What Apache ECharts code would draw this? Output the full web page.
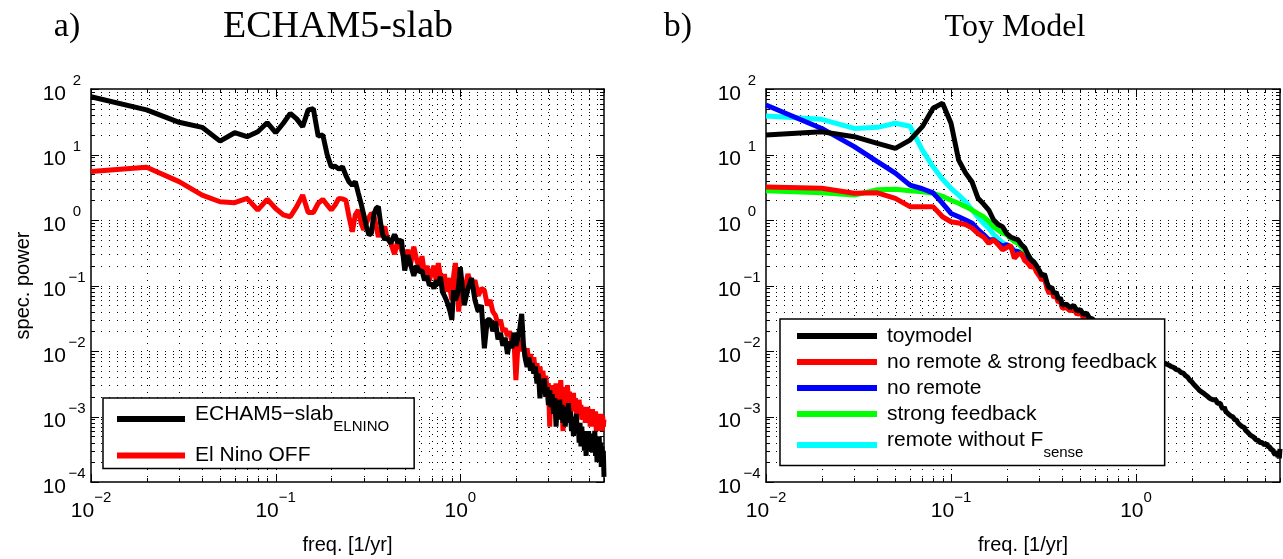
<!DOCTYPE html>
<html><head><meta charset="utf-8">
<script src="https://cdn.jsdelivr.net/npm/echarts@6/dist/echarts.min.js"></script>
<style>html,body{margin:0;padding:0;background:#fff}#c{width:1283px;height:559px}</style>
</head><body><div id="c"></div>
<script>
// ---------------- data ----------------
const freqLow = [0.01,0.02,0.03,0.04,0.05,0.06,0.07,0.08,0.09,0.10,0.11,0.12,0.13,0.14,0.15,0.16,0.17,0.18,0.19,0.20,
  0.21,0.22,0.23,0.24,0.25,0.26,0.27,0.28,0.29,0.30,0.31,0.32,0.33,0.34,0.35,0.36,0.37,0.38,0.39,0.40];
const freqMid = [0.42,0.44,0.46,0.48,0.50,0.52,0.54,0.56,0.58,0.60,0.62,0.64,0.66,0.68,0.70,0.72,0.74,0.76,0.78,0.80,
  0.82,0.84,0.86,0.88,0.90,0.92,0.94,0.96,0.98,1.00];
const freqHigh = [1.05,1.10,1.15,1.20,1.25,1.30,1.35,1.40,1.45,1.50,1.55,1.60,1.65,1.70,1.75,1.80,1.85,1.90,1.95,2.00,
  2.05,2.10,2.15,2.20,2.25,2.30,2.35,2.40,2.45,2.50,2.55,2.60,2.65,2.70,2.75,2.80,2.85,2.90,2.95,3.00,
  3.05,3.10,3.15,3.20,3.25,3.30,3.35,3.40,3.45,3.50,3.55,3.60,3.65,3.70,3.75,3.80,3.85,3.90,3.95,4.00,
  4.05,4.10,4.15,4.20,4.25,4.30,4.35,4.40,4.45,4.50,4.55,4.60,4.65,4.70,4.75,4.80,4.85,4.90,4.95,5.00,
  5.05,5.10,5.15,5.20,5.25,5.30,5.35,5.40,5.45,5.50,5.55,5.60,5.65,5.70,5.75,5.80,5.85,5.90,5.95,6.00];

// panel a) ECHAM5-slab
const echamElnino = [
  76,48,31,26,16,21.5,18.7,22.3,30.6,21.5, 30,42.5,35,26.6,48,50,19,20,10,6.5,
  6.6,6.0,6.5,4.8,3.8,3.4,3.85,2.6,1.8,1.2, 0.8,0.59,0.63,1.2,1.5,1.6,0.9,0.6,0.5,0.55,
  0.44,0.6,0.45,0.5,0.17,0.29,0.2,0.14,0.2,0.16, 0.17,0.12,0.14,0.1,0.108,0.09,0.12,0.1,0.136,0.08,
  0.07,0.06,0.05,0.04,0.03,0.085,0.06,0.07,0.1,0.19,
  0.05,0.09,0.13,0.06,0.04,0.05,0.011,0.03,0.03,0.02, 0.028,0.015,0.019,0.012,0.016,0.009,0.014,0.011,0.019,0.012,
  0.016,0.022,0.037,0.012,0.0075,0.0057,0.008,0.005,0.0065,0.0045, 0.0058,0.0032,0.0045,0.0019,0.0035,0.0024,0.0038,0.002,0.0028,0.0015,
  0.0025,0.0014,0.0022,0.0011,0.0019,0.0007,0.0016,0.0009,0.0018,0.001, 0.0015,0.0008,0.0014,0.0007,0.0012,0.0009,0.0016,0.0008,0.0012,0.0006,
  0.001,0.0005,0.0009,0.0006,0.0011,0.00055,0.0008,0.0004,0.0008,0.00035, 0.0007,0.0004,0.0006,0.0003,0.0005,0.00025,0.0005,0.0003,0.0006,0.00035,
  0.00055,0.0003,0.0005,0.00028,0.00045,0.0004,0.0006,0.00025,0.00045,0.0002, 0.0004,0.00022,0.0005,0.00025,0.0004,0.00017,0.00035,0.0002,0.0003,0.00012];
const elNinoOff = [
  5.5,6.4,3.85,2.4,1.9,1.84,2.14,1.42,2.07,1.5, 1.2,1.12,1.6,2.4,1.3,1.3,1.8,2.07,1.7,1.42,
  1.7,2.14,2.1,2.0,1.1,0.66,1.2,1.42,0.9,0.71, 0.9,1.1,1.26,1.2,0.8,0.55,0.7,0.65,0.8,0.55,
  0.45,0.3,0.5,0.35,0.25,0.35,0.22,0.39,0.25,0.18, 0.28,0.15,0.2,0.12,0.16,0.2,0.12,0.22,0.14,0.1,
  0.15,0.08,0.13,0.09,0.06,0.14,0.22,0.12,0.04,0.09,
  0.08,0.15,0.1,0.12,0.07,0.09,0.085,0.05,0.06,0.04, 0.035,0.025,0.03,0.02,0.022,0.017,0.02,0.014,0.016,0.0036,
  0.012,0.015,0.01,0.012,0.008,0.011,0.007,0.009,0.006,0.008, 0.005,0.0065,0.0045,0.0058,0.0035,0.005,0.003,0.0042,0.0028,0.0032,
  0.0007,0.0028,0.002,0.003,0.0022,0.0032,0.0018,0.0028,0.002,0.0036, 0.0015,0.0006,0.0022,0.0028,0.0016,0.003,0.0018,0.0024,0.0014,0.002,
  0.0012,0.0023,0.0013,0.0019,0.0011,0.0016,0.001,0.0018,0.0011,0.0015, 0.0009,0.0014,0.0009,0.0013,0.0008,0.0012,0.0009,0.0014,0.0008,0.0011,
  0.0007,0.0012,0.0008,0.0013,0.0007,0.0011,0.0008,0.0012,0.0006,0.001, 0.0007,0.0011,0.0006,0.0009,0.0007,0.0011,0.0006,0.001,0.0007,0.0009];

// panel b) Toy Model
const toymodel = [
  19.9,22.3,18.7,14.8,12.4,16.6,26.6,50.7,60.5,30, 8.2,5.2,3.8,2.14,1.75,1.42,1.0,0.85,0.79,0.62,
  0.55,0.52,0.5,0.42,0.38,0.3,0.25,0.23,0.2,0.17, 0.14,0.15,0.11,0.09,0.095,0.075,0.08,0.062,0.065,0.05,
  0.052,0.046,0.05,0.041,0.043,0.036,0.038,0.032,0.031,0.028, 0.027,0.025,0.024,0.022,0.021,0.019,0.0185,0.017,0.0165,0.0155,
  0.0148,0.014,0.0135,0.0128,0.0122,0.0118,0.0112,0.0108,0.0104,0.01,
  0.0093,0.0089,0.0085,0.0081,0.0078,0.0074,0.007,0.0066,0.0064,0.0061, 0.0058,0.0056,0.0052,0.0051,0.0047,0.0046,0.0042,0.004,0.0036,0.0034,
  0.0031,0.0029,0.0027,0.0025,0.0024,0.0023,0.0022,0.0021,0.0022,0.0019, 0.002,0.0018,0.0017,0.0018,0.0016,0.0015,0.0016,0.0014,0.0013,0.0014,
  0.0012,0.00125,0.0011,0.0011,0.00102,0.00096,0.00098,0.0009,0.00085,0.00088, 0.0008,0.00079,0.00074,0.00072,0.0007,0.00066,0.00068,0.00062,0.0006,0.00058,
  0.00056,0.00055,0.00052,0.00051,0.00049,0.00049,0.00047,0.00046,0.00044,0.00045, 0.00042,0.00043,0.0004,0.00041,0.00039,0.0004,0.00038,0.00039,0.00037,0.00039,
  0.00036,0.00039,0.00035,0.00036,0.00033,0.00034,0.00031,0.00032,0.0003,0.00031, 0.00028,0.0003,0.00026,0.00027,0.00025,0.00029,0.00024,0.00026,0.00023,0.00032];
const noRemoteStrongFb = [
  3.2,3.05,2.56,2.6,2.14,1.6,1.6,1.6,1.12,0.94, 0.9,0.85,0.75,0.62,0.55,0.44,0.5,0.42,0.35,0.38,
  0.41,0.26,0.3,0.31,0.24,0.22,0.19,0.2,0.16,0.14, 0.12,0.13,0.09,0.075,0.085,0.065,0.07,0.055,0.058,0.045,
  0.046,0.041,0.044,0.036,0.039,0.032,0.034,0.029,0.028,0.025, 0.024,0.022,0.021,0.02,0.019,0.017,0.0165,0.0152,0.0148,0.014,
  0.0132,0.0126,0.012,0.0115,0.011,0.0105,0.01,0.0097,0.0093,0.009];
const noRemote = [
  57,25,13.2,7.8,5.2,3.4,3.0,2.6,1.8,1.26, 1.12,1.0,0.89,0.71,0.6,0.5,0.5,0.44,0.4,0.42,
  0.39,0.33,0.33,0.3,0.26,0.25,0.21,0.21,0.18,0.155, 0.13,0.14,0.1,0.082,0.088,0.07,0.074,0.058,0.061,0.047,
  0.049,0.043,0.047,0.039,0.041,0.034,0.036,0.03,0.029,0.026,0.025,0.023,0.022,0.021,0.02];
const strongFeedback = [
  2.8,2.6,2.4,2.9,2.95,2.8,2.7,2.56,2.3,2.0, 1.8,1.6,1.42,1.25,1.12,0.95,0.79,0.7,0.63,0.6,
  0.52,0.47,0.44,0.39,0.34,0.3,0.25,0.22,0.19,0.16, 0.135,0.145,0.105,0.086,0.09,0.072,0.077,0.06,0.062,0.048,
  0.05,0.044,0.048,0.04,0.042,0.035,0.037,0.031,0.03,0.027,0.026,0.024,0.023,0.021,0.02];
const remoteNoFsense = [
  38.7,34.4,25,26,30,27,11.7,6.5,4.2,3.05, 2.4,1.9,1.42,1.1,0.89,0.75,0.6,0.52,0.45,0.41,
  0.38,0.35,0.33,0.3,0.28,0.28,0.24,0.22,0.19,0.165, 0.135,0.145,0.105,0.087,0.092,0.073,0.078,0.06,0.063,0.048,
  0.05,0.045,0.049,0.04,0.042,0.035,0.037,0.031,0.03,0.027,0.026,0.024,0.023,0.021,0.02];

// axis tick decades (ticks at 1..9 x decade)
const xDecades = [0.01, 0.1, 1];
const yDecades = [1e-4, 1e-3, 1e-2, 1e-1, 1, 10, 100];
const xMin = 0.01, xMax = 6, yMin = 1e-4, yMax = 100;

// ---------------- build ----------------
const SANS = '"Liberation Sans", Arial, Helvetica, sans-serif';
const SERIF = '"Liberation Serif", "Times New Roman", serif';
const freq = freqLow.concat(freqMid, freqHigh);
const pair = v => v.map((y, i) => [freq[i], y]);

const gridMarks = [];
xDecades.forEach(d => { for (let m = 1; m <= 9; m++) { const v = +(d * m).toPrecision(4); if (v <= xMax + 1e-9) gridMarks.push([v, 1, 0, m === 1 ? 1 : 0]); } });
yDecades.forEach(d => { for (let m = 1; m <= 9; m++) { const v = +(d * m).toPrecision(4); if (v <= yMax + 1e-12) gridMarks.push([1, v, 1, m === 1 ? 1 : 0]); } });

function renderGrid(params, api) {
  const cs = params.coordSys;
  const kind = api.value(2), major = api.value(3);
  const L = major ? 8 : 4;
  const dotV = { stroke: '#000', lineWidth: 1, lineDash: [1, 6] };
  const dotH = { stroke: '#000', lineWidth: 1, lineDash: [1, 7] };
  const solid = { stroke: '#000', lineWidth: 1 };
  const ch = [];
  const x0 = cs.x, x1 = cs.x + cs.width, y0 = cs.y, y1 = cs.y + cs.height;
  if (kind === 0) {
    const x = Math.round(api.coord([api.value(0), 1])[0]) + 0.5;
    if (x > x0 + 2 && x < x1 - 2) ch.push({ type: 'line', shape: { x1: x, y1: y0 + 2, x2: x, y2: y1 }, style: dotV });
    ch.push({ type: 'line', shape: { x1: x, y1: y1, x2: x, y2: y1 - L }, style: solid });
    ch.push({ type: 'line', shape: { x1: x, y1: y0, x2: x, y2: y0 + L }, style: solid });
  } else {
    const y = Math.round(api.coord([1, api.value(1)])[1]) + 0.5;
    if (y > y0 + 2 && y < y1 - 2) ch.push({ type: 'line', shape: { x1: x0 + 2, y1: y, x2: x1, y2: y }, style: dotH });
    ch.push({ type: 'line', shape: { x1: x0, y1: y, x2: x0 + L, y2: y }, style: solid });
    ch.push({ type: 'line', shape: { x1: x1, y1: y, x2: x1 - L, y2: y }, style: solid });
  }
  return { type: 'group', children: ch };
}

function expLabel(v) {
  const e = Math.log10(v), r = Math.round(e);
  if (Math.abs(e - r) > 1e-6) return '';
  return '{b|10}{s|' + (r < 0 ? '\u2212' : '') + Math.abs(r) + '}';
}
const xLabelRich = {
  b: { fontSize: 21, fontFamily: SANS, color: '#000', height: 20, lineHeight: 30, verticalAlign: 'bottom' },
  s: { fontSize: 15, fontFamily: SANS, color: '#000', height: 14, verticalAlign: 'top' }
};
const yLabelRich = {
  b: { fontSize: 21, fontFamily: SANS, color: '#000', height: 20, lineHeight: 30, verticalAlign: 'bottom' },
  s: { fontSize: 15, fontFamily: SANS, color: '#000', height: 14, width: 22, align: 'left', verticalAlign: 'top' }
};

function xAxes(gi) {
  return [
    { type: 'log', gridIndex: gi, min: xMin, max: xMax, logBase: 10, position: 'bottom',
      axisLine: { show: true, lineStyle: { color: '#000', width: 1.5 } }, axisTick: { show: false },
      splitLine: { show: false }, minorTick: { show: false },
      axisLabel: { show: true, margin: 9, formatter: expLabel, rich: xLabelRich, showMaxLabel: false },
      name: 'freq. [1/yr]', nameLocation: 'middle', nameGap: 53,
      nameTextStyle: { fontFamily: SANS, fontSize: 20, color: '#000' } },
    { type: 'log', gridIndex: gi, min: xMin, max: xMax, logBase: 10, position: 'top',
      axisLine: { show: true, lineStyle: { color: '#000', width: 1.5 } }, axisTick: { show: false },
      splitLine: { show: false }, axisLabel: { show: false } }
  ];
}
function yAxes(gi, withName) {
  return [
    { type: 'log', gridIndex: gi, min: yMin, max: yMax, logBase: 10, position: 'left',
      axisLine: { show: true, lineStyle: { color: '#000', width: 1.5 } }, axisTick: { show: false },
      splitLine: { show: false },
      axisLabel: { show: true, margin: 3, formatter: expLabel, rich: yLabelRich },
      name: withName ? 'spec. power' : '', nameLocation: 'middle', nameGap: 58,
      nameTextStyle: { fontFamily: SANS, fontSize: 20, color: '#000' } },
    { type: 'log', gridIndex: gi, min: yMin, max: yMax, logBase: 10, position: 'right',
      axisLine: { show: true, lineStyle: { color: '#000', width: 1.5 } }, axisTick: { show: false },
      splitLine: { show: false }, axisLabel: { show: false } }
  ];
}

function lineSeries(name, data, color, xi, yi) {
  return { type: 'line', name, data: pair(data), xAxisIndex: xi, yAxisIndex: yi, color,
    symbol: 'none', showSymbol: false, z: 3, silent: true,
    lineStyle: { width: 5, color }, itemStyle: { color } };
}

const N_A1 = 'ECHAM5\u2212slab_ELNINO', N_A2 = 'El Nino OFF';
const N_B1 = 'toymodel', N_B2 = 'no remote & strong feedback', N_B3 = 'no remote',
      N_B4 = 'strong feedback', N_B5 = 'remote without F_sense';
const legendText = {};
legendText[N_A1] = '{t|ECHAM5\u2212slab}{sub|ELNINO}';
legendText[N_A2] = '{n|El Nino OFF}';
legendText[N_B1] = '{n|toymodel}';
legendText[N_B2] = '{n|no remote & strong feedback}';
legendText[N_B3] = '{n|no remote}';
legendText[N_B4] = '{n|strong feedback}';
legendText[N_B5] = '{t|remote without F}{sub|sense}';
const legendRich = {
  n: { fontSize: 21, fontFamily: SANS, color: '#000', height: 22, lineHeight: 22, padding: [0, 0, 0, 5] },
  t: { fontSize: 21, fontFamily: SANS, color: '#000', height: 22, lineHeight: 32, verticalAlign: 'top', padding: [0, 0, 0, 5] },
  sub: { fontSize: 15, fontFamily: SANS, color: '#000', height: 16, verticalAlign: 'bottom' }
};
function legendBox(names, left, top, itemWidth, gap, padding) {
  return { show: true, orient: 'vertical', left, top, data: names, icon: 'rect', itemWidth, itemHeight: 6,
    itemGap: gap, padding, backgroundColor: '#fff', borderColor: '#000', borderWidth: 1.5, borderRadius: 0,
    selectedMode: false, formatter: n => legendText[n],
    textStyle: { fontFamily: SANS, fontSize: 21, color: '#000', rich: legendRich } };
}

const option = {
  animation: false,
  backgroundColor: '#fff',
  grid: [
    { left: 91, top: 89, width: 513, height: 393, containLabel: false, outerBoundsMode: 'none' },
    { left: 766, top: 89, width: 514, height: 393, containLabel: false, outerBoundsMode: 'none' }
  ],
  xAxis: xAxes(0).concat(xAxes(1)),
  yAxis: yAxes(0, true).concat(yAxes(1, false)),
  legend: [
    legendBox([N_A1, N_A2], 103, 398, 68, 10, [5, 25, 2, 14]),
    legendBox([N_B1, N_B2, N_B3, N_B4, N_B5], 780, 319, 80, 4, [6, 8, 5, 17])
  ],
  graphic: [
    { type: 'text', x: 67, y: 27, style: { text: 'a)', font: '34px ' + SERIF, fill: '#000', textAlign: 'center', textVerticalAlign: 'middle' } },
    { type: 'text', x: 338, y: 27, style: { text: 'ECHAM5-slab', font: '38px ' + SERIF, fill: '#000', textAlign: 'center', textVerticalAlign: 'middle' } },
    { type: 'text', x: 678, y: 27, style: { text: 'b)', font: '34px ' + SERIF, fill: '#000', textAlign: 'center', textVerticalAlign: 'middle' } },
    { type: 'text', x: 1015, y: 28, style: { text: 'Toy Model', font: '32px ' + SERIF, fill: '#000', textAlign: 'center', textVerticalAlign: 'middle' } }
  ],
  series: [
    { type: 'custom', name: 'gridA', xAxisIndex: 0, yAxisIndex: 0, data: gridMarks, renderItem: renderGrid, z: 1, silent: true, clip: false },
    { type: 'custom', name: 'gridB', xAxisIndex: 2, yAxisIndex: 2, data: gridMarks, renderItem: renderGrid, z: 1, silent: true, clip: false },
    lineSeries(N_A2, elNinoOff, '#ff0000', 0, 0),
    lineSeries(N_A1, echamElnino, '#000000', 0, 0),
    lineSeries(N_B5, remoteNoFsense, '#00ffff', 2, 2),
    lineSeries(N_B4, strongFeedback, '#00ff00', 2, 2),
    lineSeries(N_B3, noRemote, '#0000ff', 2, 2),
    lineSeries(N_B2, noRemoteStrongFb, '#ff0000', 2, 2),
    lineSeries(N_B1, toymodel, '#000000', 2, 2)
  ]
};
const chart = echarts.init(document.getElementById('c'), null, { renderer: 'canvas' });
chart.setOption(option);
</script>
</body></html>
